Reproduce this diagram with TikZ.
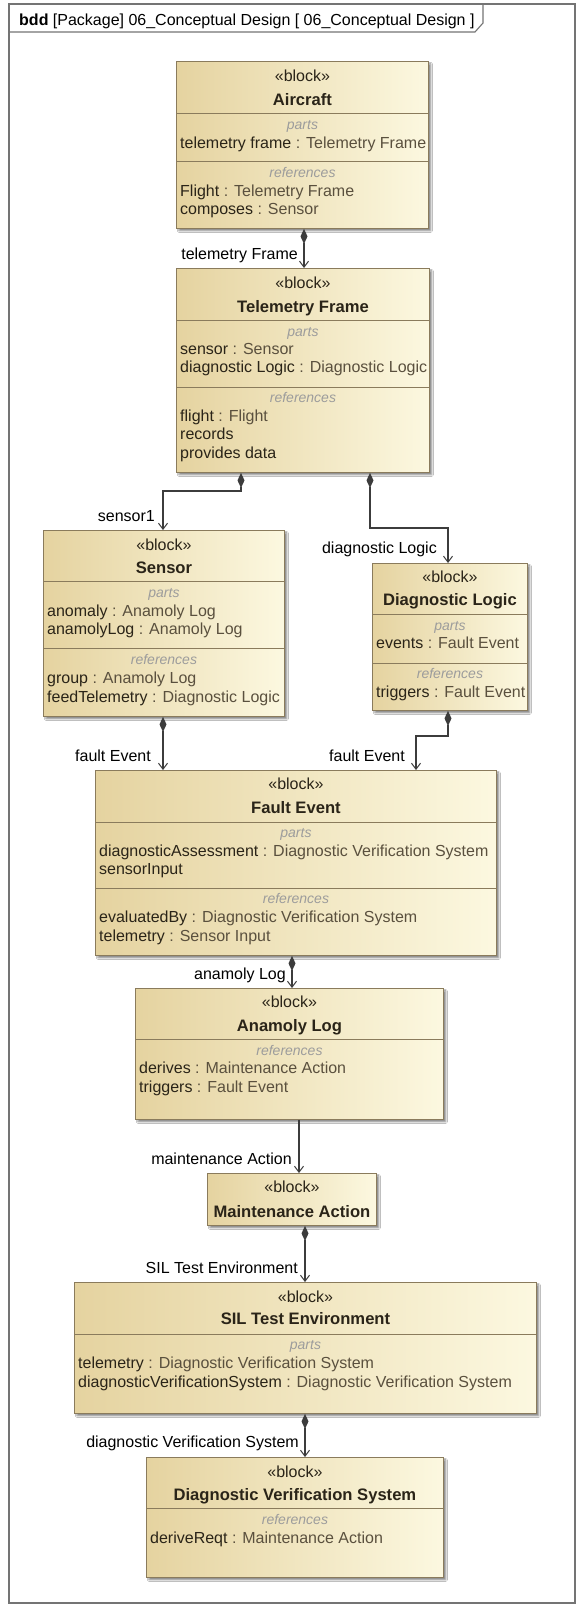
\documentclass[tikz,border=0pt]{standalone}
\usepackage{fontspec}
\setmainfont{Liberation Sans}
\usetikzlibrary{arrows.meta,shadows.blur}
\definecolor{framecol}{HTML}{747474}
\definecolor{blockline}{HTML}{8A7B5C}
\definecolor{tanD}{HTML}{E5D3A0}
\definecolor{creamL}{HTML}{FCF8E0}
\definecolor{secgray}{HTML}{9C9C9C}
\definecolor{namecol}{HTML}{2A2418}
\definecolor{typecol}{HTML}{5A503E}
\definecolor{linecol}{HTML}{3C3C3C}
\newcommand{\fs}[1]{\fontsize{#1}{#1}\selectfont}
\newcommand{\prp}[2]{#1\textcolor{typecol}{\ : #2}}
\tikzset{
  blockbox/.style={draw=blockline, line width=0.9pt, left color=tanD, right color=creamL,
    anchor=north west, inner sep=0pt,
    blur shadow={shadow xshift=2.5pt, shadow yshift=-2.5pt, shadow blur radius=1.5pt, shadow opacity=45}},
  sepline/.style={draw=blockline, line width=0.9pt},
  stereo/.style={anchor=base, inner sep=0pt, font=\fs{16}, text=namecol},
  btitle/.style={anchor=base, inner sep=0pt, font=\bfseries\fs{16.6}, text=namecol},
  sect/.style={anchor=base, inner sep=0pt, font=\itshape\fs{14}, text=secgray},
  propt/.style={anchor=base west, inner sep=0pt, xshift=4pt, font=\fs{16}, text=namecol},
  elabel/.style={anchor=base east, inner sep=0pt, font=\fs{16}, text=black},
  comp/.style={draw=linecol, line width=1.1pt,
    {Diamond[length=15pt,width=7pt,fill=linecol]}-{Straight Barb[length=6pt,width=9pt,line width=1pt]}},
  assoc/.style={draw=linecol, line width=1.1pt, -{Straight Barb[length=6pt,width=9pt,line width=1pt]}}
}
\begin{document}
\begin{tikzpicture}[x=1pt,y=-1pt]
\useasboundingbox[fill=white] (0,0) rectangle (578,1606);

% diagram frame with name tab
\draw[framecol, line width=1.1pt] (9,4) rectangle (575,1603);
\draw[framecol, line width=1.1pt] (9,32) -- (475,32) -- (483,23) -- (483,4);
\node[anchor=base west, inner sep=0pt, font=\fs{16}] (hdr) at (19,25)
  {\textbf{bdd} [Package] 06\_Conceptual Design [ 06\_Conceptual Design ]};

% Aircraft
\node[blockbox, minimum width=252pt, minimum height=167pt] (aircraft) at (176,61) {};
\draw[sepline] (aircraft.west |- 0,113) -- (aircraft.east |- 0,113);
\draw[sepline] (aircraft.west |- 0,161) -- (aircraft.east |- 0,161);
\node[stereo] (aircraft-st) at (aircraft.north |- 0,81) {«block»};
\node[btitle] (aircraft-nm) at (aircraft.north |- 0,105) {Aircraft};
\node[sect] (aircraft-s1) at (aircraft.north |- 0,129) {parts};
\node[propt] (aircraft-p1) at (aircraft.west |- 0,148) {\prp{telemetry frame}{Telemetry Frame}};
\node[sect] (aircraft-s2) at (aircraft.north |- 0,177) {references};
\node[propt] (aircraft-r1) at (aircraft.west |- 0,196) {\prp{Flight}{Telemetry Frame}};
\node[propt] (aircraft-r2) at (aircraft.west |- 0,214) {\prp{composes}{Sensor}};

% Telemetry Frame
\node[blockbox, minimum width=253pt, minimum height=204pt] (tframe) at (176,268) {};
\draw[sepline] (tframe.west |- 0,320) -- (tframe.east |- 0,320);
\draw[sepline] (tframe.west |- 0,387) -- (tframe.east |- 0,387);
\node[stereo] (tframe-st) at (tframe.north |- 0,288) {«block»};
\node[btitle] (tframe-nm) at (tframe.north |- 0,312) {Telemetry Frame};
\node[sect] (tframe-s1) at (tframe.north |- 0,336) {parts};
\node[propt] (tframe-p1) at (tframe.west |- 0,354) {\prp{sensor}{Sensor}};
\node[propt] (tframe-p2) at (tframe.west |- 0,372) {\prp{diagnostic Logic}{Diagnostic Logic}};
\node[sect] (tframe-s2) at (tframe.north |- 0,402) {references};
\node[propt] (tframe-r1) at (tframe.west |- 0,421) {\prp{flight}{Flight}};
\node[propt] (tframe-r2) at (tframe.west |- 0,439) {records};
\node[propt] (tframe-r3) at (tframe.west |- 0,458) {provides data};

% Sensor
\node[blockbox, minimum width=241pt, minimum height=186pt] (sensor) at (43,530) {};
\draw[sepline] (sensor.west |- 0,581) -- (sensor.east |- 0,581);
\draw[sepline] (sensor.west |- 0,648) -- (sensor.east |- 0,648);
\node[stereo] (sensor-st) at (sensor.north |- 0,550) {«block»};
\node[btitle] (sensor-nm) at (sensor.north |- 0,573) {Sensor};
\node[sect] (sensor-s1) at (sensor.north |- 0,597) {parts};
\node[propt] (sensor-p1) at (sensor.west |- 0,616) {\prp{anomaly}{Anamoly Log}};
\node[propt] (sensor-p2) at (sensor.west |- 0,634) {\prp{anamolyLog}{Anamoly Log}};
\node[sect] (sensor-s2) at (sensor.north |- 0,664) {references};
\node[propt] (sensor-r1) at (sensor.west |- 0,683) {\prp{group}{Anamoly Log}};
\node[propt] (sensor-r2) at (sensor.west |- 0,702) {\prp{feedTelemetry}{Diagnostic Logic}};

% Diagnostic Logic
\node[blockbox, minimum width=155pt, minimum height=147pt] (dlogic) at (372,563) {};
\draw[sepline] (dlogic.west |- 0,614) -- (dlogic.east |- 0,614);
\draw[sepline] (dlogic.west |- 0,663) -- (dlogic.east |- 0,663);
\node[stereo] (dlogic-st) at (dlogic.north |- 0,582) {«block»};
\node[btitle] (dlogic-nm) at (dlogic.north |- 0,605) {Diagnostic Logic};
\node[sect] (dlogic-s1) at (dlogic.north |- 0,630) {parts};
\node[propt] (dlogic-p1) at (dlogic.west |- 0,648) {\prp{events}{Fault Event}};
\node[sect] (dlogic-s2) at (dlogic.north |- 0,678) {references};
\node[propt] (dlogic-r1) at (dlogic.west |- 0,697) {\prp{triggers}{Fault Event}};

% Fault Event
\node[blockbox, minimum width=401pt, minimum height=185pt] (fevent) at (95,770) {};
\draw[sepline] (fevent.west |- 0,822) -- (fevent.east |- 0,822);
\draw[sepline] (fevent.west |- 0,888) -- (fevent.east |- 0,888);
\node[stereo] (fevent-st) at (fevent.north |- 0,789) {«block»};
\node[btitle] (fevent-nm) at (fevent.north |- 0,813) {Fault Event};
\node[sect] (fevent-s1) at (fevent.north |- 0,837) {parts};
\node[propt] (fevent-p1) at (fevent.west |- 0,856) {\prp{diagnosticAssessment}{Diagnostic Verification System}};
\node[propt] (fevent-p2) at (fevent.west |- 0,874) {sensorInput};
\node[sect] (fevent-s2) at (fevent.north |- 0,903) {references};
\node[propt] (fevent-r1) at (fevent.west |- 0,922) {\prp{evaluatedBy}{Diagnostic Verification System}};
\node[propt] (fevent-r2) at (fevent.west |- 0,941) {\prp{telemetry}{Sensor Input}};

% Anamoly Log
\node[blockbox, minimum width=308pt, minimum height=131pt] (alog) at (135,988) {};
\draw[sepline] (alog.west |- 0,1039) -- (alog.east |- 0,1039);
\node[stereo] (alog-st) at (alog.north |- 0,1007) {«block»};
\node[btitle] (alog-nm) at (alog.north |- 0,1031) {Anamoly Log};
\node[sect] (alog-s1) at (alog.north |- 0,1055) {references};
\node[propt] (alog-r1) at (alog.west |- 0,1073) {\prp{derives}{Maintenance Action}};
\node[propt] (alog-r2) at (alog.west |- 0,1092) {\prp{triggers}{Fault Event}};

% Maintenance Action
\node[blockbox, minimum width=169pt, minimum height=52pt] (maction) at (207,1173) {};
\node[stereo] (maction-st) at (maction.north |- 0,1192) {«block»};
\node[btitle] (maction-nm) at (maction.north |- 0,1217) {Maintenance Action};

% SIL Test Environment
\node[blockbox, minimum width=462pt, minimum height=131pt] (sil) at (74,1282) {};
\draw[sepline] (sil.west |- 0,1334) -- (sil.east |- 0,1334);
\node[stereo] (sil-st) at (sil.north |- 0,1302) {«block»};
\node[btitle] (sil-nm) at (sil.north |- 0,1324) {SIL Test Environment};
\node[sect] (sil-s1) at (sil.north |- 0,1349) {parts};
\node[propt] (sil-p1) at (sil.west |- 0,1368) {\prp{telemetry}{Diagnostic Verification System}};
\node[propt] (sil-p2) at (sil.west |- 0,1387) {\prp{diagnosticVerificationSystem}{Diagnostic Verification System}};

% Diagnostic Verification System
\node[blockbox, minimum width=297pt, minimum height=120pt] (dvs) at (146,1457) {};
\draw[sepline] (dvs.west |- 0,1508) -- (dvs.east |- 0,1508);
\node[stereo] (dvs-st) at (dvs.north |- 0,1477) {«block»};
\node[btitle] (dvs-nm) at (dvs.north |- 0,1500) {Diagnostic Verification System};
\node[sect] (dvs-s1) at (dvs.north |- 0,1524) {references};
\node[propt] (dvs-r1) at (dvs.west |- 0,1543) {\prp{deriveReqt}{Maintenance Action}};

% composition and association connectors
\draw[comp] (aircraft.south -| 304,0) -- (tframe.north -| 304,0);
\draw[comp] (tframe.south -| 241,0) -- (241,491) -- (163,491) -- (sensor.north -| 163,0);
\draw[comp] (tframe.south -| 370,0) -- (370,528) -- (448,528) -- (dlogic.north -| 448,0);
\draw[comp] (sensor.south -| 163,0) -- (fevent.north -| 163,0);
\draw[comp] (dlogic.south -| 448,0) -- (448,736) -- (416,736) -- (fevent.north -| 416,0);
\draw[comp] (fevent.south -| 292,0) -- (alog.north -| 292,0);
\draw[assoc] (alog.south -| 299,0) -- (maction.north -| 299,0);
\draw[comp] (maction.south -| 305,0) -- (sil.north -| 305,0);
\draw[comp] (sil.south -| 305,0) -- (dvs.north -| 305,0);

% role names at the part ends
\node[elabel] (l-tf) at (298,259) {telemetry Frame};
\node[elabel] (l-s1) at (155,521) {sensor1};
\node[elabel] (l-dl) at (437,553) {diagnostic Logic};
\node[elabel] (l-fe1) at (151,761) {fault Event};
\node[elabel] (l-fe2) at (405,761) {fault Event};
\node[elabel] (l-al) at (286,979) {anamoly Log};
\node[elabel] (l-ma) at (292,1164) {maintenance Action};
\node[elabel] (l-sil) at (298,1273) {SIL Test Environment};
\node[elabel] (l-dvs) at (299,1447) {diagnostic Verification System};
\end{tikzpicture}
\end{document}
